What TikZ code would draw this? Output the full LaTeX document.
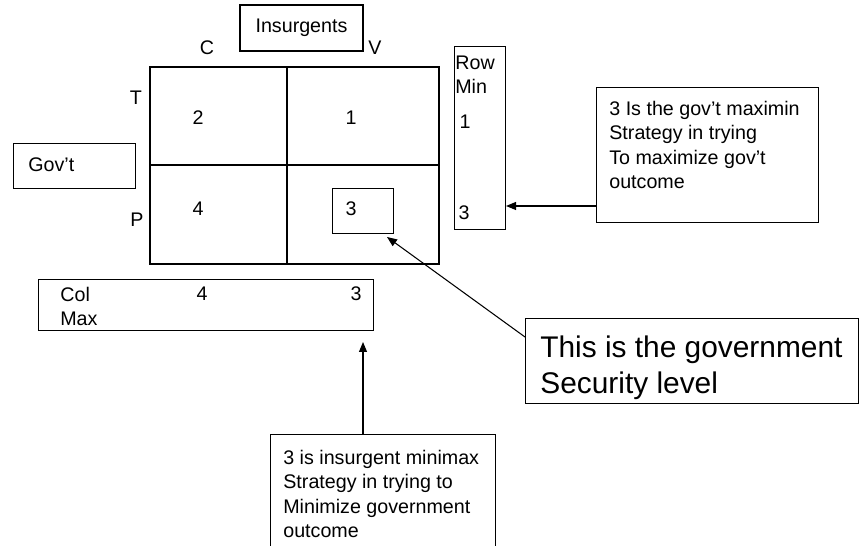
\documentclass[tikz,border=0pt]{standalone}
\usepackage{fontspec}
\setmainfont{Liberation Sans}
\usetikzlibrary{arrows.meta}

\tikzset{
  box/.style={draw, line width=0.6pt, inner sep=0pt},
  lbl/.style={font=\fontsize{11.2}{14}\selectfont, inner sep=0pt},
  big/.style={font=\fontsize{17}{21}\selectfont, inner sep=0pt},
  arr/.style={-{Triangle[length=2mm,width=1.6mm]}, line width=0.6pt}
}

\begin{document}
\begin{tikzpicture}[x=0.02cm,y=-0.02cm]
\useasboundingbox (0,0) rectangle (862,546);

\coordinate (G1) at (150,67);
\coordinate (G2) at (439,264);
\coordinate (Gm) at (287,165);

% Draw payoff grid
\draw[line width=0.6pt] (G1) rectangle (G2);
\draw[line width=0.6pt] (G1 -| Gm) -- (G2 -| Gm);
\draw[line width=0.6pt] (G1 |- Gm) -- (G2 |- Gm);

% players and strategies
\node[box, lbl, minimum width=2.46cm, minimum height=0.92cm] (insurg) at (301.5,28) {Insurgents};
\node[box, minimum width=2.44cm, minimum height=0.9cm, anchor=north west] (govt) at (13,143) {};
\node[lbl, anchor=west] at (28,165) {Gov’t};
\node[lbl] (colC) at (207,48) {C};
\node[lbl] (colV) at (375,48) {V};
\node[lbl] (rowT) at (136,98) {T};
\node[lbl] (rowP) at (137,220) {P};

% payoffs
\node[lbl] (p11) at (198,118) {2};
\node[lbl] (p12) at (351,118) {1};
\node[lbl] (p21) at (198,209) {4};
\node[lbl] (p22) at (351,209) {3};
\node[box, minimum width=1.22cm, minimum height=0.9cm, anchor=north west] (saddle) at (332,188) {};

% row minima
\node[box, minimum width=1.02cm, minimum height=3.66cm, anchor=north west] (rowmin) at (454,46) {};
\node[lbl, align=left, anchor=base west] at (455,94) {Row\\Min};
\node[lbl] (rm1) at (465,122) {1};
\node[lbl] (rm3) at (464,213) {3};

% column maxima
\node[box, minimum width=6.7cm, minimum height=1.02cm, anchor=north west] (colmax) at (38,279) {};
\node[lbl, align=left, anchor=base west] at (60,326) {Col\\Max};
\node[lbl] (cm4) at (202,294) {4};
\node[lbl] (cm3) at (356,294) {3};

% notes
\node[box, minimum width=4.44cm, minimum height=2.7cm, anchor=north west] (govnote) at (596,87) {};
\node[lbl, align=left, anchor=base west] at (609,189) {3 Is the gov’t maximin\\Strategy in trying\\To maximize gov’t\\outcome};

\node[box, minimum width=6.66cm, minimum height=1.7cm, anchor=north west] (secnote) at (525,318) {};
\node[big, align=left, anchor=base west] at (540,394) {This is the government\\Security level};

\node[box, minimum width=4.5cm, minimum height=2.6cm, anchor=north west] (insnote) at (270,434) {};
\node[lbl, align=left, anchor=base west] at (283,538) {3 is insurgent minimax\\Strategy in trying to\\Minimize government\\outcome};

% Draw arrows
\coordinate (a1) at (596,206);
\coordinate (a2) at (525,337);
\coordinate (a2e) at (387,237);
\coordinate (a3e) at (363,342);
\draw[arr] (a1) -- (rowmin.east |- a1);
\draw[arr] (a2) -- (a2e);
\draw[arr] (insnote.north -| a3e) -- (a3e);
\end{tikzpicture}
\end{document}
